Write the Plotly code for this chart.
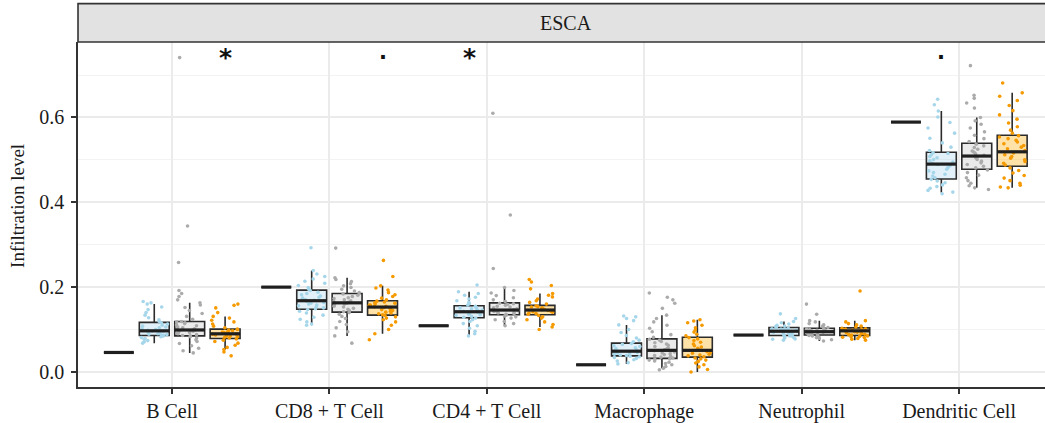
import math
import plotly.graph_objects as go

# ---- categories and groups -------------------------------------------------
categories = ["B Cell", "CD8 + T Cell", "CD4 + T Cell", "Macrophage", "Neutrophil", "Dendritic Cell"]
groups = ["Normal", "Low", "Medium", "High"]

# Normal tissue: a single value per cell type
normal_values = [0.046, 0.200, 0.109, 0.017, 0.087, 0.589]

# Box statistics per group (one value per cell type)
low_q1 = [0.086, 0.148, 0.128, 0.038, 0.086, 0.455]
low_median = [0.097, 0.168, 0.142, 0.049, 0.096, 0.490]
low_q3 = [0.117, 0.193, 0.156, 0.068, 0.105, 0.518]
low_lower = [0.068, 0.110, 0.087, 0.019, 0.075, 0.423]
low_upper = [0.160, 0.239, 0.189, 0.111, 0.119, 0.615]

mid_q1 = [0.085, 0.141, 0.135, 0.032, 0.087, 0.478]
mid_median = [0.099, 0.163, 0.146, 0.051, 0.095, 0.509]
mid_q3 = [0.119, 0.185, 0.163, 0.078, 0.103, 0.539]
mid_lower = [0.045, 0.085, 0.109, 0.009, 0.073, 0.434]
mid_upper = [0.163, 0.222, 0.199, 0.134, 0.121, 0.600]

high_q1 = [0.079, 0.134, 0.135, 0.035, 0.086, 0.485]
high_median = [0.090, 0.153, 0.146, 0.051, 0.097, 0.519]
high_q3 = [0.101, 0.168, 0.157, 0.082, 0.104, 0.558]
high_lower = [0.053, 0.090, 0.106, 0.000, 0.075, 0.434]
high_upper = [0.131, 0.203, 0.185, 0.123, 0.121, 0.658]

# ---- individual samples ----------------------------------------------------
bcell_low = [0.068, 0.071, 0.074, 0.077, 0.079, 0.081, 0.083, 0.085, 0.086,
             0.087, 0.088, 0.089, 0.090, 0.092, 0.093, 0.094, 0.095, 0.096,
             0.098, 0.100, 0.102, 0.104, 0.106, 0.108, 0.110, 0.113, 0.116,
             0.119, 0.123, 0.128, 0.134, 0.140, 0.147, 0.153, 0.160, 0.163, 0.166]
bcell_mid = [0.045, 0.050, 0.056, 0.062, 0.067, 0.072, 0.076, 0.080, 0.083, 0.085,
             0.086, 0.088, 0.090, 0.091, 0.093, 0.095, 0.096, 0.098, 0.099,
             0.100, 0.102, 0.104, 0.106, 0.109, 0.111, 0.114, 0.116, 0.118, 0.119,
             0.124, 0.131, 0.138, 0.145, 0.152, 0.158, 0.163, 0.170, 0.178, 0.185,
             0.192, 0.258, 0.344, 0.741]
bcell_high = [0.038, 0.047, 0.053, 0.058, 0.063, 0.068, 0.072, 0.075, 0.078,
              0.080, 0.082, 0.083, 0.085, 0.086, 0.087, 0.088, 0.089, 0.090,
              0.091, 0.092, 0.093, 0.094, 0.095, 0.097, 0.098, 0.099, 0.100, 0.101,
              0.104, 0.108, 0.113, 0.118, 0.122, 0.127, 0.131, 0.140, 0.151, 0.157, 0.160]

cd8_low = [0.110, 0.113, 0.118, 0.124, 0.129, 0.134, 0.139, 0.143, 0.147,
           0.149, 0.151, 0.154, 0.156, 0.158, 0.160, 0.162, 0.164, 0.167,
           0.169, 0.171, 0.174, 0.176, 0.179, 0.182, 0.185, 0.188, 0.192,
           0.195, 0.199, 0.204, 0.209, 0.214, 0.219, 0.225, 0.231, 0.239, 0.293]
cd8_mid = [0.068, 0.085, 0.095, 0.104, 0.112, 0.119, 0.126, 0.131, 0.136, 0.140,
           0.142, 0.145, 0.148, 0.150, 0.153, 0.155, 0.158, 0.160, 0.162,
           0.164, 0.166, 0.168, 0.170, 0.173, 0.175, 0.178, 0.181, 0.184,
           0.187, 0.191, 0.195, 0.199, 0.203, 0.208, 0.213, 0.218, 0.222, 0.292]
cd8_high = [0.076, 0.090, 0.100, 0.110, 0.118, 0.123, 0.127, 0.130, 0.133,
            0.135, 0.137, 0.139, 0.141, 0.143, 0.145, 0.147, 0.149, 0.151, 0.152,
            0.154, 0.155, 0.157, 0.158, 0.160, 0.162, 0.163, 0.165, 0.167,
            0.170, 0.174, 0.178, 0.182, 0.187, 0.193, 0.198, 0.203, 0.225, 0.263]

cd4_low = [0.085, 0.090, 0.096, 0.103, 0.109, 0.114, 0.119, 0.123, 0.127,
           0.129, 0.131, 0.133, 0.135, 0.136, 0.138, 0.139, 0.141,
           0.143, 0.144, 0.146, 0.147, 0.149, 0.151, 0.152, 0.154, 0.155,
           0.158, 0.161, 0.164, 0.168, 0.172, 0.176, 0.181, 0.185, 0.189, 0.205]
cd4_mid = [0.109, 0.114, 0.119, 0.123, 0.127, 0.130, 0.132, 0.134,
           0.136, 0.137, 0.139, 0.140, 0.141, 0.143, 0.144, 0.145,
           0.147, 0.149, 0.151, 0.153, 0.155, 0.157, 0.159, 0.161, 0.162,
           0.166, 0.170, 0.175, 0.180, 0.186, 0.192, 0.199, 0.244, 0.370, 0.610]
cd4_high = [0.100, 0.106, 0.112, 0.118, 0.123, 0.127, 0.130, 0.133,
            0.136, 0.138, 0.139, 0.141, 0.142, 0.143, 0.145,
            0.147, 0.148, 0.150, 0.151, 0.153, 0.154, 0.156,
            0.160, 0.164, 0.168, 0.172, 0.177, 0.181, 0.185, 0.196, 0.204, 0.212, 0.218]

macro_low = [0.019, 0.022, 0.026, 0.029, 0.032, 0.034, 0.036, 0.037,
             0.039, 0.040, 0.042, 0.043, 0.045, 0.046, 0.048,
             0.050, 0.052, 0.055, 0.057, 0.060, 0.062, 0.065, 0.067,
             0.071, 0.075, 0.080, 0.086, 0.093, 0.100, 0.111, 0.121, 0.126, 0.130, 0.132]
macro_mid = [0.005, 0.009, 0.013, 0.017, 0.020, 0.023, 0.026, 0.028, 0.030, 0.031,
             0.033, 0.035, 0.037, 0.039, 0.041, 0.043, 0.045, 0.047, 0.049, 0.050,
             0.052, 0.054, 0.057, 0.060, 0.063, 0.066, 0.069, 0.072, 0.075, 0.077,
             0.082, 0.088, 0.095, 0.103, 0.110, 0.118, 0.126, 0.134, 0.150, 0.162,
             0.170, 0.176, 0.186]
macro_high = [0.000, 0.006, 0.012, 0.017, 0.021, 0.025, 0.028, 0.031, 0.033,
              0.036, 0.038, 0.040, 0.042, 0.044, 0.046, 0.048, 0.050,
              0.053, 0.056, 0.059, 0.062, 0.066, 0.070, 0.074, 0.078, 0.081,
              0.085, 0.089, 0.094, 0.099, 0.104, 0.110, 0.116, 0.120, 0.123]

neutro_low = [0.075, 0.077, 0.078, 0.080, 0.082, 0.083, 0.084, 0.085,
              0.087, 0.088, 0.089, 0.090, 0.092, 0.093, 0.094, 0.095,
              0.097, 0.098, 0.099, 0.100, 0.101, 0.102, 0.103, 0.104,
              0.107, 0.108, 0.110, 0.113, 0.116, 0.119, 0.126, 0.137]
neutro_mid = [0.073, 0.076, 0.079, 0.081, 0.083, 0.085, 0.086,
              0.088, 0.089, 0.090, 0.091, 0.092, 0.093, 0.094,
              0.096, 0.097, 0.098, 0.099, 0.100, 0.101, 0.102,
              0.105, 0.108, 0.111, 0.114, 0.118, 0.121, 0.136, 0.160]
neutro_high = [0.075, 0.077, 0.079, 0.081, 0.082, 0.083, 0.084, 0.085,
               0.087, 0.088, 0.089, 0.090, 0.092, 0.093, 0.094, 0.095, 0.096,
               0.098, 0.099, 0.100, 0.101, 0.102, 0.103,
               0.106, 0.108, 0.111, 0.114, 0.118, 0.121, 0.191]

dendritic_low = [0.420, 0.424, 0.428, 0.433, 0.437, 0.441, 0.446, 0.450, 0.454,
                 0.458, 0.462, 0.466, 0.470, 0.474, 0.478, 0.482, 0.486, 0.489,
                 0.492, 0.495, 0.498, 0.501, 0.505, 0.508, 0.512, 0.515, 0.517,
                 0.522, 0.530, 0.540, 0.551, 0.563, 0.575, 0.588, 0.601, 0.615, 0.630, 0.643]
dendritic_mid = [0.430, 0.434, 0.439, 0.445, 0.451, 0.458, 0.464, 0.470, 0.476,
                 0.481, 0.485, 0.489, 0.493, 0.497, 0.501, 0.505, 0.508,
                 0.511, 0.514, 0.518, 0.521, 0.525, 0.529, 0.533, 0.537,
                 0.543, 0.550, 0.558, 0.566, 0.575, 0.584, 0.592, 0.600,
                 0.622, 0.634, 0.645, 0.652, 0.722]
dendritic_high = [0.434, 0.436, 0.440, 0.445, 0.451, 0.457, 0.463, 0.469, 0.475, 0.481,
                  0.488, 0.492, 0.496, 0.500, 0.504, 0.508, 0.512, 0.516,
                  0.522, 0.526, 0.530, 0.534, 0.538, 0.542, 0.546, 0.550, 0.554, 0.557,
                  0.563, 0.570, 0.578, 0.587, 0.596, 0.606, 0.616, 0.628, 0.640,
                  0.650, 0.658, 0.681]

# significance marks: label, cell type index, group index
sig_labels = ["*", ".", "*", "."]
sig_category = [0, 1, 2, 5]
sig_group = [3, 3, 1, 1]
sig_level = 0.750

# ---- styling ---------------------------------------------------------------
FONT = "Liberation Serif"
GROUP_OFFSET = [-0.3375, -0.1125, 0.1125, 0.3375]
BOX_WIDTH = 0.19
JITTER_SPAN = 0.17
point_colors = {"Low": "#A6D6EA", "Medium": "#ABABAB", "High": "#F59A00"}
fill_colors = {"Normal": "rgba(0,0,0,0)",
               "Low": "rgba(150,205,232,0.28)",
               "Medium": "rgba(175,175,175,0.25)",
               "High": "rgba(255,178,25,0.38)"}

samples = {
    "Low": [bcell_low, cd8_low, cd4_low, macro_low, neutro_low, dendritic_low],
    "Medium": [bcell_mid, cd8_mid, cd4_mid, macro_mid, neutro_mid, dendritic_mid],
    "High": [bcell_high, cd8_high, cd4_high, macro_high, neutro_high, dendritic_high],
}
box_stats = {
    "Normal": (normal_values, normal_values, normal_values, normal_values, normal_values),
    "Low": (low_q1, low_median, low_q3, low_lower, low_upper),
    "Medium": (mid_q1, mid_median, mid_q3, mid_lower, mid_upper),
    "High": (high_q1, high_median, high_q3, high_lower, high_upper),
}


def positions(gi):
    return [ci + 1 + GROUP_OFFSET[gi] for ci in range(len(categories))]


def spread(n, phase):
    # deterministic hash-based horizontal jitter, uniform over the box width
    out = []
    for k in range(n):
        h = math.sin((k + 1) * 12.9898 + phase * 78.233) * 43758.5453
        out.append((h - math.floor(h) - 0.5) * JITTER_SPAN)
    return out


fig = go.Figure()

# jittered samples underneath the boxes
for gi, g in enumerate(groups):
    if g not in samples:
        continue
    xs, ys = [], []
    for ci, vals in enumerate(samples[g]):
        centre = ci + 1 + GROUP_OFFSET[gi]
        offs = spread(len(vals), 1.7 * ci + 3.1 * gi)
        xs.extend(centre + o for o in offs)
        ys.extend(vals)
    fig.add_trace(go.Scatter(
        x=xs, y=ys, mode="markers", name=g, showlegend=False,
        marker=dict(size=3.6, color=point_colors[g], line=dict(width=0)),
        hoverinfo="skip"))

# boxes from the summary statistics
for gi, g in enumerate(groups):
    q1, med, q3, lo, hi = box_stats[g]
    fig.add_trace(go.Box(
        x=positions(gi), q1=q1, median=med, q3=q3, lowerfence=lo, upperfence=hi,
        orientation="v", width=BOX_WIDTH, whiskerwidth=0, boxpoints=False,
        fillcolor=fill_colors[g], line=dict(color="#2b2b2b", width=1.6),
        name=g, showlegend=False))

# heavier median bars
for gi, g in enumerate(groups):
    med = box_stats[g][1]
    xs, ys = [], []
    for p, m in zip(positions(gi), med):
        xs += [p - BOX_WIDTH / 2, p + BOX_WIDTH / 2, None]
        ys += [m, m, None]
    fig.add_trace(go.Scatter(x=xs, y=ys, mode="lines", showlegend=False,
                             line=dict(color="#1f1f1f", width=3.2), hoverinfo="skip"))

# significance labels
for lab, ci, gi in zip(sig_labels, sig_category, sig_group):
    star = lab == "*"
    fig.add_annotation(x=ci + 1 + GROUP_OFFSET[gi], y=sig_level, text="<b>%s</b>" % lab,
                       showarrow=False, xanchor="center", yanchor="middle",
                       yshift=-4 if star else 2,
                       font=dict(family="DejaVu Sans", size=25 if star else 21,
                                 color="#111111"))

# facet strip
strip_h = 38.4 / 345
fig.add_shape(type="rect", xref="paper", yref="paper", x0=0, x1=1.05,
              y0=1, y1=1 + strip_h, fillcolor="#E2E2E2",
              line=dict(color="#333333", width=1.6), layer="above")
fig.add_annotation(x=3.5, xref="x", y=1 + strip_h / 2, yref="paper", text="ESCA",
                   showarrow=False, xanchor="center", yanchor="middle",
                   font=dict(family=FONT, size=20, color="#1a1a1a"))

# y-axis title
fig.add_annotation(x=-60 / 967, xref="paper", y=0.525, yref="paper",
                   text="Infiltration level", textangle=-90, showarrow=False,
                   xanchor="center", yanchor="middle",
                   font=dict(family=FONT, size=19, color="#1a1a1a"))

fig.update_layout(
    width=1045, height=423,
    margin=dict(l=78, r=0, t=42, b=36, pad=0),
    paper_bgcolor="white", plot_bgcolor="white",
    boxmode="overlay", showlegend=False,
    xaxis=dict(range=[0.403, 6.546], tickvals=list(range(1, 7)), ticktext=categories,
               showgrid=True, gridcolor="#EBEBEB", gridwidth=1.6, zeroline=False,
               showline=True, linecolor="#333333", linewidth=1.6,
               ticks="outside", ticklen=5, tickwidth=1.6, tickcolor="#333333",
               tickfont=dict(family=FONT, size=20, color="#1a1a1a")),
    yaxis=dict(range=[-0.0354, 0.7778], tickvals=[0, 0.2, 0.4, 0.6],
               ticktext=["0.0", "0.2", "0.4", "0.6"],
               showgrid=True, gridcolor="#EBEBEB", gridwidth=1.6, zeroline=False,
               showline=True, linecolor="#333333", linewidth=1.6,
               ticks="outside", ticklen=5, tickwidth=1.6, tickcolor="#333333",
               ticklabelstandoff=3,
               tickfont=dict(family=FONT, size=20, color="#1a1a1a"),
               minor=dict(tickvals=[0.1, 0.3, 0.5, 0.7], showgrid=True,
                          gridcolor="#F3F3F3", gridwidth=0.9, ticks="")),
)

fig.write_html("out.html")
